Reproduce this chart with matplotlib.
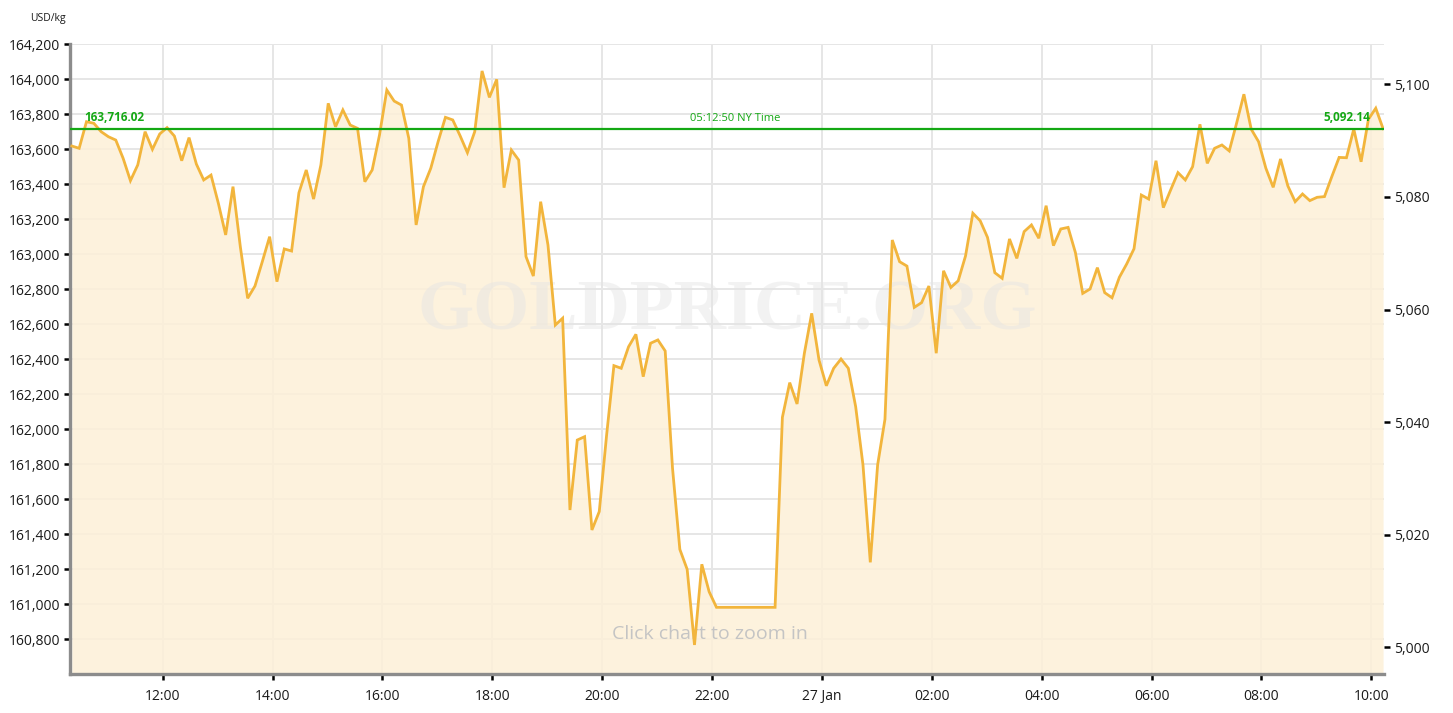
import numpy as np
import pandas as pd
import matplotlib
matplotlib.use("Agg")
import matplotlib.pyplot as plt
import matplotlib.dates as mdates
from matplotlib.ticker import FuncFormatter

plt.rcParams['font.family'] = ['Open Sans', 'DejaVu Sans']

# gold price, USD/kg, one sample every 8 minutes (UTC)
start_time = '2026-01-26 10:20:50'
step = '8min'
price_kg = [
    163617, 163604, 163756, 163747, 163699, 163670, 163651, 163547, 163419, 163509,
    163699, 163598, 163686, 163722, 163674, 163533, 163665, 163514, 163423, 163451,
    163290, 163109, 163385, 163042, 162747, 162817, 162956, 163099, 162842, 163029,
    163017, 163350, 163480, 163314, 163509, 163861, 163727, 163823, 163737, 163718,
    163413, 163480, 163680, 163937, 163874, 163851, 163661, 163166, 163385, 163490,
    163642, 163781, 163766, 163676, 163579, 163699, 164046, 163895, 163998, 163379,
    163594, 163537, 162985, 162874, 163299, 163051, 162594,
    162633, 161537, 161937, 161956, 161423, 161528, 161964, 162362, 162347, 162470,
    162541, 162299, 162490, 162509, 162446, 161776, 161312, 161198, 160766, 161227,
    161070,
    160981, 160981, 160981, 160981, 160981, 160981, 160981, 160981, 160981,
    162067, 162265, 162143, 162433, 162661, 162394, 162247, 162347, 162400, 162347,
    162128, 161795, 161238, 161795, 162055, 163080, 162956, 162931, 162695, 162722,
    162817, 162433, 162904, 162809, 162847, 162989, 163233, 163190, 163095, 162893,
    162861, 163086, 162975, 163128, 163166, 163090, 163276, 163048, 163143, 163152,
    163008, 162775, 162800, 162922, 162779, 162750, 162867, 162943, 163030, 163337,
    163314, 163533, 163265, 163366, 163465, 163423, 163499, 163741, 163518, 163604,
    163623, 163589, 163747, 163913, 163713, 163642, 163490, 163381, 163543, 163389,
    163299, 163343, 163305, 163324, 163328, 163442, 163552, 163550, 163714, 163527,
    163770, 163833, 163716.02,
]
last_price_kg = 163716.02
last_price_oz = 5092.14
last_time_label = '05:12:50 NY Time'
OZ_PER_KG = 32.1507466

left_ticks = np.arange(160800, 164201, 200)
right_ticks = np.arange(5000, 5101, 20)

times = pd.date_range(start=start_time, periods=len(price_kg), freq=step)
vals = np.array(price_kg)

line_color = '#F2B53C'
fill_color = '#FDF0D8'
green = '#14A814'
tick_color = '#1a1a1a'

fig = plt.figure(figsize=(14.53, 7.13), dpi=100)
ax = fig.add_axes([70 / 1453, 39 / 713, 1314 / 1453, 630 / 713])

ymin, ymax = 160600, 164200
ax.set_ylim(ymin, ymax)
ax.set_xlim(times[0] - pd.Timedelta(minutes=2), times[-1] + pd.Timedelta(minutes=1))

ax.grid(True, color='#E6E6E6', linewidth=1.4, zorder=0)
ax.set_axisbelow(True)

ax.fill_between(times, vals, ymin, color=fill_color, alpha=0.85, lw=0, zorder=1)
ax.plot(times, vals, color=line_color, lw=2.0, zorder=4, solid_joinstyle='miter')

ax.axhline(last_price_kg, color=green, lw=1.6, zorder=5)

# watermark and hint
ax.text(0.5, 0.575, 'GOLDPRICE.ORG', transform=ax.transAxes, ha='center', va='center',
        family=['Liberation Serif', 'DejaVu Serif'], fontsize=52, fontweight='bold',
        color='#E4E4E4', alpha=0.45, zorder=2)
ax.text(0.487, 0.064, 'Click chart to zoom in', transform=ax.transAxes, ha='center',
        va='center', fontsize=14, color='#C4C4C4', zorder=3)

ax.text(times[0] + pd.Timedelta(minutes=14), last_price_kg + 25, f'{last_price_kg:,.2f}',
        color=green, fontsize=8.5, fontweight='bold', va='bottom', ha='left', zorder=6)
ax.text(times[-1] - pd.Timedelta(minutes=14), last_price_kg + 25, f'{last_price_oz:,.2f}',
        color=green, fontsize=8.5, fontweight='bold', va='bottom', ha='right', zorder=6)
ax.text(0.5065, last_price_kg + 25, last_time_label, transform=ax.get_yaxis_transform(),
        color=green, fontsize=8, va='bottom', ha='center', zorder=6)

# axes styling
for side in ['top', 'right']:
    ax.spines[side].set_visible(False)
for side in ['left', 'bottom']:
    ax.spines[side].set_color('#8C8C8C')
    ax.spines[side].set_linewidth(2.4)

ax.set_yticks(left_ticks)
ax.yaxis.set_major_formatter(FuncFormatter(lambda v, p: f'{v:,.0f}'))
ax.xaxis.set_major_locator(mdates.HourLocator(byhour=range(0, 24, 2)))


def fmt_time(x, pos):
    d = mdates.num2date(x)
    if d.hour == 0:
        return d.strftime('%d %b').lstrip('0')
    return d.strftime('%H:%M')


ax.xaxis.set_major_formatter(FuncFormatter(fmt_time))
ax.tick_params(axis='both', colors='black', labelcolor=tick_color, labelsize=10,
               length=4, width=1.8, direction='out', pad=3)
ax.tick_params(axis='x', pad=7)

sec = ax.secondary_yaxis('right', functions=(lambda v: v / OZ_PER_KG, lambda v: v * OZ_PER_KG))
sec.set_yticks(right_ticks)
sec.yaxis.set_major_formatter(FuncFormatter(lambda v, p: f'{v:,.0f}'))
sec.spines['right'].set_visible(False)
sec.tick_params(colors='black', labelcolor=tick_color, labelsize=10, length=4, width=1.8, pad=3)

fig.text(30 / 1453, 1 - 18 / 713, 'USD/kg', fontsize=7.5, color=tick_color, va='center', ha='left')

fig.savefig('out.png', dpi=100)
